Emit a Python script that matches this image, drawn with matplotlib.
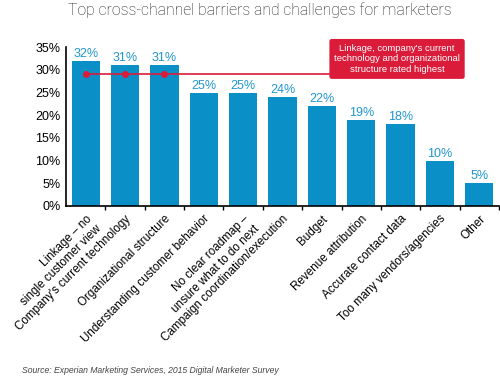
import numpy as np
import matplotlib.pyplot as plt

categories = [
    "Linkage \u2013 no\nsingle customer view",
    "Company's current technology",
    "Organizational structure",
    "Understanding customer behavior",
    "No clear roadmap \u2013\nunsure what to do next",
    "Campaign coordination/execution",
    "Budget",
    "Revenue attribution",
    "Accurate contact data",
    "Too many vendors/agencies",
    "Other",
]
values = [32, 31, 31, 25, 25, 24, 22, 19, 18, 10, 5]
highlight_idx = [0, 1, 2]
highlight_level = 29.0
yticks = [0, 5, 10, 15, 20, 25, 30, 35]

BAR = "#0A8FC7"
LABEL_BLUE = "#2196CE"
RED = "#DB1B3A"

plt.rcParams["font.family"] = ["Liberation Sans", "DejaVu Sans"]

fig = plt.figure(figsize=(5, 3.77), dpi=100)
ax = fig.add_axes([0.132, 0.4536, 0.866, 0.4214])

x = np.arange(len(values))
ax.bar(x, values, width=0.72, color=BAR, zorder=2)
for xi, v in zip(x, values):
    ax.text(xi, v + 0.2, f"{v}%", ha="center", va="bottom",
            fontsize=9, color=LABEL_BLUE, zorder=3)

ax.set_xlim(-0.5, len(values) - 0.5)
ax.set_ylim(0, 35)
ax.set_yticks(yticks)
ax.set_yticklabels([f"{t}%" for t in yticks], fontsize=9)
ax.tick_params(axis="y", length=0, pad=4)
ax.set_yticks([35], minor=True)
ax.tick_params(axis="y", which="minor", direction="in", length=4, width=1)

ax.set_xticks(x)
ax.set_xticklabels(categories, rotation=45, ha="right", va="top",
                   rotation_mode="anchor", fontsize=8.4, multialignment="right")
ax.tick_params(axis="x", which="major", length=0, pad=5)
ax.set_xticks(np.arange(len(values)) + 0.5, minor=True)
ax.tick_params(axis="x", which="minor", direction="out", length=3, width=1)

for s in ["top", "right"]:
    ax.spines[s].set_visible(False)
ax.spines["left"].set_linewidth(1.2)
ax.spines["bottom"].set_linewidth(1.2)

# red highlight line to callout box
ax.plot([highlight_idx[0], 6.3], [highlight_level, highlight_level],
        color=RED, lw=1.2, zorder=4, clip_on=False)
ax.scatter(highlight_idx, [highlight_level] * len(highlight_idx),
           color=RED, s=16, zorder=5)
ax.text(7.91, 32.4,
        "Linkage, company's current\ntechnology and organizational\nstructure rated highest",
        ha="center", va="center", fontsize=6.8, color="white", linespacing=1.25,
        zorder=6, clip_on=False,
        bbox=dict(boxstyle="round,pad=0.5,rounding_size=0.25", fc=RED, ec="none"))

fig.text(0.52, 0.972, "Top cross-channel barriers and challenges for marketers",
         ha="center", va="center", fontsize=11.3, color="#1e1e1e",
         family=["Roboto", "DejaVu Sans"], weight="light")
fig.text(0.043, 0.018, "Source: Experian Marketing Services, 2015 Digital Marketer Survey",
         ha="left", va="center", fontsize=6.2, style="italic", color="#444444")

fig.savefig("out.png", dpi=100)
